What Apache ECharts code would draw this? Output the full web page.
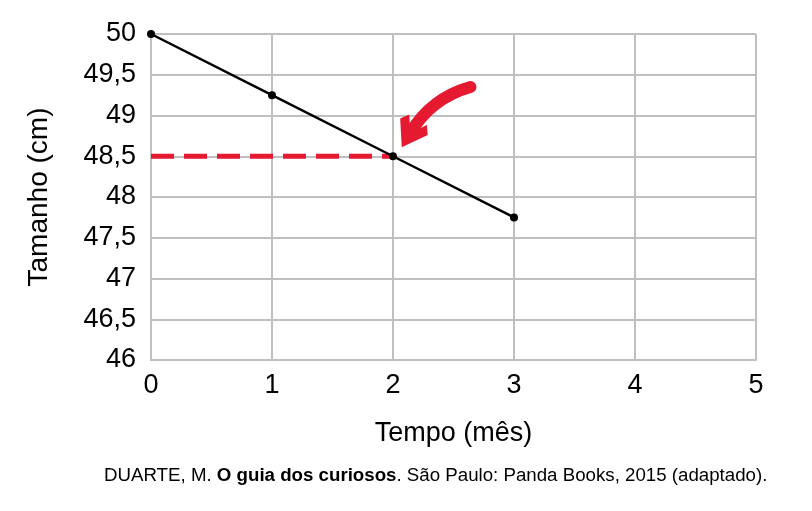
<!DOCTYPE html>
<html>
<head>
<meta charset="utf-8">
<script src="https://cdn.jsdelivr.net/npm/echarts@6/dist/echarts.min.js"></script>
<style>
html, body { margin: 0; padding: 0; background: #fff; }
#chart { width: 812px; height: 511px; }
</style>
</head>
<body>
<div id="chart"></div>
<script>
// dados do gráfico
var meses = [0, 1, 2, 3];
var tamanhos = [50, 49.25, 48.5, 47.75];
var destaqueX = [0, 2];
var destaqueY = 48.5;
// seta (início e ponta, em coordenadas do gráfico)
var setaInicio = [2.64, 49.35];
var setaFim = [2.14, 48.78];

var fonte = '"Liberation Sans", Arial, sans-serif';

var myChart = echarts.init(document.getElementById('chart'));

var option = {
    animation: false,
    grid: { left: 151, right: 56, top: 34, bottom: 151 },
    xAxis: {
        type: 'value',
        min: 0, max: 5, interval: 1,
        name: 'Tempo (mês)',
        nameLocation: 'middle',
        nameGap: 60,
        nameTextStyle: { fontFamily: fonte, fontSize: 27, color: '#000' },
        axisLine: { lineStyle: { color: '#bfbfbf', width: 2 } },
        axisTick: { show: false },
        axisLabel: { fontFamily: fonte, fontSize: 27, color: '#000', margin: 12 },
        splitLine: { show: true, lineStyle: { color: '#bfbfbf', width: 2 } }
    },
    yAxis: {
        type: 'value',
        min: 46, max: 50, interval: 0.5,
        name: 'Tamanho (cm)',
        nameLocation: 'middle',
        nameGap: 98,
        nameTextStyle: { fontFamily: fonte, fontSize: 28, color: '#000' },
        axisLine: { show: true, lineStyle: { color: '#bfbfbf', width: 2 } },
        axisTick: { show: false },
        axisLabel: {
            fontFamily: fonte, fontSize: 27, color: '#000', margin: 15,
            formatter: function (v) { return String(v).replace('.', ','); }
        },
        splitLine: { show: true, lineStyle: { color: '#bfbfbf', width: 2 } }
    },
    title: {
        left: 99,
        top: 461,
        text: '{a|DUARTE, M. }{b|O guia dos curiosos}{a|. São Paulo: Panda Books, 2015 (adaptado).}',
        textStyle: {
            fontWeight: 'normal',
            rich: {
                a: { fontFamily: fonte, fontSize: 18.7, color: '#000', fontWeight: 'normal' },
                b: { fontFamily: fonte, fontSize: 18.7, color: '#000', fontWeight: 'bold' }
            }
        }
    },
    series: [
        {
            type: 'line',
            data: [[destaqueX[0], destaqueY], [destaqueX[1], destaqueY]],
            symbol: 'none',
            lineStyle: { color: '#e5192f', width: 5, type: [23, 10] },
            z: 2
        },
        {
            type: 'line',
            data: meses.map(function (m, i) { return [m, tamanhos[i]]; }),
            symbol: 'circle',
            symbolSize: 8,
            itemStyle: { color: '#000' },
            lineStyle: { color: '#000', width: 2.5 },
            z: 3
        },
        {
            type: 'lines',
            coordinateSystem: 'cartesian2d',
            data: [{ coords: [setaInicio, setaFim] }],
            symbol: ['none', 'path://M50,0 L100,58 L82,78 L50,40 L18,78 L0,58 Z'],
            symbolSize: [40, 32],
            lineStyle: { color: '#e5192f', width: 12, curveness: -0.2, opacity: 1, cap: 'round' },
            z: 4
        }
    ]
};

myChart.setOption(option);
</script>
</body>
</html>
